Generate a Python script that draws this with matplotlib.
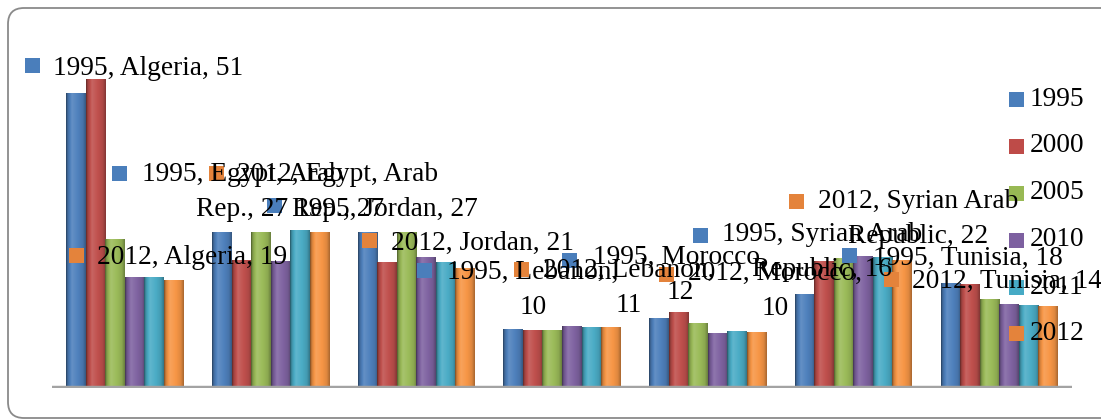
import textwrap
import numpy as np
import matplotlib.pyplot as plt
from matplotlib.patches import Rectangle, FancyBboxPatch
from matplotlib.transforms import IdentityTransform
from matplotlib.colors import to_rgb

W, H = 1101, 420

countries = ["Algeria", "Egypt, Arab Rep.", "Jordan", "Lebanon", "Morocco",
             "Syrian Arab Republic", "Tunisia"]
years = ["1995", "2000", "2005", "2010", "2011", "2012"]

v1995 = [51.0, 26.9, 27.0, 10.2, 12.1, 16.2, 18.1]
v2000 = [53.4, 22.1, 21.8, 10.0, 13.1, 21.9, 17.9]
v2005 = [25.8, 27.0, 26.9, 10.1, 11.3, 22.4, 15.4]
v2010 = [19.2, 21.9, 22.6, 10.7, 9.5, 22.8, 14.5]
v2011 = [19.2, 27.3, 21.8, 10.5, 9.9, 22.7, 14.3]
v2012 = [18.6, 27.0, 20.7, 10.6, 9.6, 22.2, 14.1]
series = [v1995, v2000, v2005, v2010, v2011, v2012]

colors = ["#4f81bd", "#c0504d", "#9bbb59", "#8064a2", "#4bacc6", "#f79646"]
key_colors = ["#4a7ebb", "#be4b48", "#98b954", "#7d60a0", "#46aac5", "#e4833b"]

# data labels: (series idx, country idx, key x, key y, text x, first baseline y, wrap width)
labels = [
    (0, 0, 25, 58, 53, 75, 40),
    (5, 0, 69, 248, 97, 264, 40),
    (0, 1, 112, 166, 142, 184, 17),
    (5, 1, 209, 166, 237, 184, 17),
    (0, 2, 267, 198, 295, 216, 40),
    (5, 2, 362, 233, 391, 250, 40),
    (0, 3, 417, 263, 447, 282, 15),
    (5, 3, 514, 262, 543, 280, 15),
    (0, 4, 562, 253, 593, 267, 15),
    (5, 4, 659, 267, 688, 283, 15),
    (0, 5, 693, 228, 722, 244, 17),
    (5, 5, 789, 194, 818, 211, 17),
    (0, 6, 842, 248, 873, 265, 40),
    (5, 6, 884, 272, 912, 288, 40),
]
LINE_GAP = 32

FONT = "Liberation Serif"
FS = 19.7


def shade(c, f):
    c = np.array(to_rgb(c))
    if f < 1:
        return c * f
    return c + (1 - c) * (f - 1)


def bar_gradient(c, n=64):
    pos = [0.0, 0.08, 0.3, 0.5, 0.85, 1.0]
    fac = [0.5, 0.82, 1.12, 1.04, 0.9, 0.68]
    t = np.linspace(0, 1, n)
    f = np.interp(t, pos, fac)
    return np.array([shade(c, k) for k in f])[np.newaxis, :, :]


fig = plt.figure(figsize=(W / 100, H / 100), dpi=100)


def fx(x):
    return x / W


def fy(y):
    return 1 - y / H


# chart frame, behind everything
frame = FancyBboxPatch((8, H - 418), W + 40, 410,
                       boxstyle="round,pad=0,rounding_size=16",
                       transform=IdentityTransform(), facecolor="white",
                       edgecolor="#8a8a8a", linewidth=1.3, zorder=-5)
fig.add_artist(frame)

ax_left, ax_right, ax_base, ymax = 52, 1072, 388, 60
px_per_unit = (388 - 93) / 51.0
ax_top = ax_base - ymax * px_per_unit
ax = fig.add_axes([fx(ax_left), fy(ax_base), (ax_right - ax_left) / W,
                   (ax_base - ax_top) / H])
ax.patch.set_alpha(0)

n = len(countries)
x = np.arange(n)
bw = 0.134
for j, vals in enumerate(series):
    bars = ax.bar(x + (j - 2.5) * bw, vals, bw, color=colors[j],
                  linewidth=0, zorder=2)
    grad = bar_gradient(colors[j])
    for b in bars:
        im = ax.imshow(grad, extent=(b.get_x(), b.get_x() + b.get_width(),
                                     0, b.get_height()),
                       aspect="auto", interpolation="bilinear", zorder=3)
        im.set_clip_path(b)

# floor line
ax.axhline(0, color="#a3a3a3", lw=3.2, zorder=4, solid_capstyle="butt")
ax.set_xlim(-0.5, n - 0.5)
ax.set_ylim(0, ymax)
ax.axis("off")

# data labels with legend keys
for s, c, kx, ky, tx, ty, wrap in labels:
    val = series[s][c]
    txt = textwrap.fill(f"{years[s]}, {countries[c]}, {val:.0f}", wrap)
    nl = txt.count("\n")
    fig.add_artist(Rectangle((fx(kx), fy(ky + 15)), 15 / W, 15 / H,
                             transform=fig.transFigure,
                             facecolor=key_colors[s], edgecolor="none",
                             zorder=5))
    # baseline alignment of multi-line text goes by the last line
    fig.text(fx(tx), fy(ty + nl * LINE_GAP), txt, ha="left", va="baseline",
             multialignment="center", linespacing=1.55,
             family=FONT, fontsize=FS, color="black", zorder=6)

# legend
leg_y = [99, 146, 193, 240, 287, 333]
for j, yr in enumerate(years):
    fig.add_artist(Rectangle((fx(1009), fy(leg_y[j] + 7.5)), 15 / W, 15 / H,
                             transform=fig.transFigure,
                             facecolor=key_colors[j], edgecolor="none",
                             zorder=5))
    fig.text(fx(1030), fy(leg_y[j]), yr, ha="left", va="center",
             family=FONT, fontsize=FS, color="black", zorder=6)

fig.savefig("out.png", dpi=100)
